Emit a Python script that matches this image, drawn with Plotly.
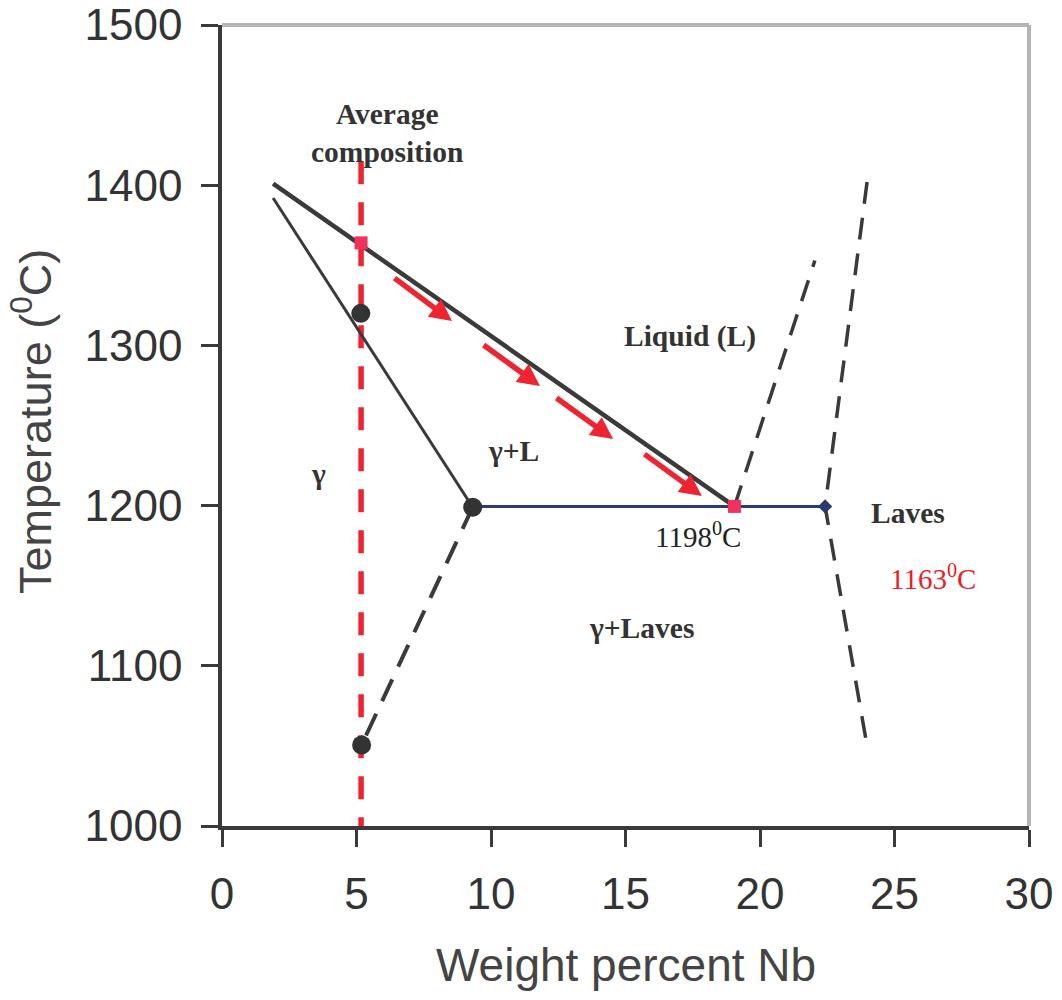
import plotly.graph_objects as go

# ---------------- data ----------------
liquidus_x = [1.9, 19.05]
liquidus_y = [1401, 1199.5]

solidus_x = [1.9, 9.32]
solidus_y = [1392, 1199]

gamma_solvus_x = [9.32, 5.19]
gamma_solvus_y = [1199, 1050.6]

eutectic_x = [9.32, 22.42]
eutectic_y = [1199.5, 1199.5]

laves_left_x = [19.05, 22.04]
laves_left_y = [1199.5, 1353]

laves_right_x = [23.98, 22.42, 23.98]
laves_right_y = [1402, 1199.5, 1050]

avg_comp_x = [5.17, 5.17]
avg_comp_y = [1415, 1000]

circle_x = [5.16, 9.32, 5.19]
circle_y = [1320, 1199, 1050.6]

square_x = [5.17, 19.05]
square_y = [1364, 1199.5]

diamond_x = [22.42]
diamond_y = [1199.5]

arrow_tail_x = [6.36, 9.67, 12.38, 15.65]
arrow_tail_y = [1342.7, 1300.9, 1267.8, 1232.8]
arrow_tip_x = [8.55, 11.82, 14.54, 17.84]
arrow_tip_y = [1315.2, 1274.7, 1241.6, 1206.0]

x_ticks = [0, 5, 10, 15, 20, 25, 30]
y_ticks = [1000, 1100, 1200, 1300, 1400, 1500]

region_labels = ["Average<br>composition", "Liquid (L)", "γ+L", "γ", "γ+Laves", "Laves"]
region_x = [6.13, 17.38, 10.82, 3.57, 15.58, 25.5]
region_y = [1432.6, 1305.3, 1234.1, 1219.7, 1123.6, 1195.4]

temp_labels = ["1198<sup>0</sup>C", "1163<sup>0</sup>C"]
temp_x = [17.70, 26.43]
temp_y = [1181.6, 1155.4]
temp_colors = ["#222222", "#ee1c24"]

# ---------------- figure ----------------
DARK = "#3a3a3a"
RED = "#ee2430"
fig = go.Figure()

fig.add_trace(go.Scatter(x=avg_comp_x, y=avg_comp_y, mode="lines",
                         line=dict(color=RED, width=5.5, dash="23px,18px")))
fig.add_trace(go.Scatter(x=liquidus_x, y=liquidus_y, mode="lines",
                         line=dict(color=DARK, width=4.5)))
fig.add_trace(go.Scatter(x=solidus_x, y=solidus_y, mode="lines",
                         line=dict(color=DARK, width=3)))
fig.add_trace(go.Scatter(x=gamma_solvus_x, y=gamma_solvus_y, mode="lines",
                         line=dict(color=DARK, width=4, dash="24px,14px")))
fig.add_trace(go.Scatter(x=laves_left_x, y=laves_left_y, mode="lines",
                         line=dict(color=DARK, width=3.5, dash="22px,14px")))
fig.add_trace(go.Scatter(x=laves_right_x, y=laves_right_y, mode="lines",
                         line=dict(color=DARK, width=3.5, dash="22px,14px")))
fig.add_trace(go.Scatter(x=eutectic_x, y=eutectic_y, mode="lines",
                         line=dict(color="#2b3a78", width=3)))
fig.add_trace(go.Scatter(x=circle_x, y=circle_y, mode="markers",
                         marker=dict(color="#333333", size=19, symbol="circle")))
fig.add_trace(go.Scatter(x=square_x, y=square_y, mode="markers",
                         marker=dict(color="#f2325e", size=13, symbol="square")))
fig.add_trace(go.Scatter(x=diamond_x, y=diamond_y, mode="markers",
                         marker=dict(color="#2b3a70", size=11, symbol="diamond")))

annotations = []
for tx, ty, hx, hy in zip(arrow_tail_x, arrow_tail_y, arrow_tip_x, arrow_tip_y):
    annotations.append(dict(x=hx, y=hy, ax=tx, ay=ty, xref="x", yref="y",
                            axref="x", ayref="y", text="", showarrow=True,
                            arrowhead=2, arrowsize=0.8, arrowwidth=5.5,
                            arrowcolor=RED, standoff=0))

for t, x, y in zip(region_labels, region_x, region_y):
    annotations.append(dict(x=x, y=y, xref="x", yref="y", text="<b>%s</b>" % t,
                            showarrow=False, xanchor="center", yanchor="middle",
                            font=dict(family="Liberation Serif", size=29.5, color="#333333")))

for t, x, y, c in zip(temp_labels, temp_x, temp_y, temp_colors):
    annotations.append(dict(x=x, y=y, xref="x", yref="y", text=t,
                            showarrow=False, xanchor="center", yanchor="middle",
                            font=dict(family="Liberation Serif", size=29, color=c)))

# axis titles
annotations.append(dict(x=0.5, y=-0.173, xref="paper", yref="paper",
                        text="Weight percent Nb", showarrow=False,
                        xanchor="center", yanchor="middle",
                        font=dict(family="Liberation Sans", size=46, color="#444444")))
annotations.append(dict(x=-0.2355, y=0.5056, xref="paper", yref="paper",
                        text="Temperature (<sup>0</sup>C)", showarrow=False, textangle=-90,
                        xanchor="center", yanchor="middle",
                        font=dict(family="Liberation Sans", size=45, color="#444444")))

shapes = [
    dict(type="line", xref="paper", yref="paper", x0=0, x1=1, y0=1, y1=1,
         line=dict(color="#b4b4b4", width=4)),
    dict(type="line", xref="paper", yref="paper", x0=1, x1=1, y0=0, y1=1,
         line=dict(color="#b4b4b4", width=4)),
]

fig.update_layout(
    width=1062, height=1000,
    margin=dict(l=222, r=33, t=25, b=174),
    paper_bgcolor="white", plot_bgcolor="white",
    showlegend=False,
    annotations=annotations,
    shapes=shapes,
    xaxis=dict(range=[0, 30], tickvals=x_ticks, ticktext=[str(v) for v in x_ticks],
               automargin=False,
               showgrid=False, zeroline=False, showline=True, linecolor=DARK, linewidth=3.5,
               ticks="outside", ticklen=17, tickwidth=3, tickcolor=DARK,
               ticklabelstandoff=9,
               tickfont=dict(family="Liberation Sans", size=44, color="#333333")),
    yaxis=dict(range=[1000, 1500], tickvals=y_ticks, ticktext=[str(v) for v in y_ticks],
               automargin=False,
               showgrid=False, zeroline=False, showline=True, linecolor=DARK, linewidth=3.5,
               ticks="outside", ticklen=17, tickwidth=3, tickcolor=DARK,
               ticklabelstandoff=10,
               tickfont=dict(family="Liberation Sans", size=44, color="#333333")),
)

fig.write_html("out.html")
